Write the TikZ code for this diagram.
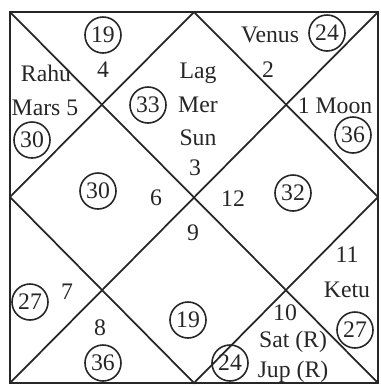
\documentclass[tikz,border=0pt]{standalone}
\usepackage{fontspec}
\setmainfont{Liberation Serif}
\usetikzlibrary{positioning}
\definecolor{ink}{HTML}{262626}

\begin{document}
\begin{tikzpicture}[x=0.02cm, y=-0.02cm,
    every node/.style={font=\fontsize{13.5}{15}\selectfont, text=ink},
    deg/.style={draw=ink, circle, line width=0.9pt, minimum size=20.5pt, inner sep=0pt},
    lbl/.style={inner sep=0pt}]
  \useasboundingbox (0,0) rectangle (380,386);
  % chart frame
  \coordinate (tl) at (10,12);   \coordinate (tr) at (378,12);
  \coordinate (bl) at (10,383);  \coordinate (br) at (378,383);
  \coordinate (tm) at (194,12);  \coordinate (bm) at (194,383);
  \coordinate (lm) at (10,197);  \coordinate (rm) at (378,197);
  \draw[ink, line width=1.1pt] (tl) rectangle (br);
  \draw[ink, line width=1pt] (tl) -- (br) (tr) -- (bl);
  \draw[ink, line width=1pt] (tm) -- (rm) -- (bm) -- (lm) -- cycle;

  % circled degrees
  \foreach \n/\x/\y/\v in
    {dA/103/35/19, dB/32/140/30, dC/148/105/33, dD/327/33/24,
     dE/353/135/36, dF/98/191/30, dG/293/193/32, dH/30/302/27,
     dI/103/363/36, dJ/188/320/19, dK/355/330/27, dL/230/363/24}
    {\node[deg] (\n) at (\x,\y) {\v};}

  % houses and planets
  \foreach \n/\x/\y/\t in
    {hFour/103/70/4, rahu/46/73/Rahu, mars/45/108/Mars 5,
     lag/198/73/Lag, mer/198/105/Mer, sun/198/138/Sun, hThree/195/168/3,
     venus/270/35/Venus, hTwo/268/70/2, moon/335/106/1 Moon,
     hSix/156/198/6, hTwelve/233/199/12, hNine/193/233/9,
     hSeven/67/292/7, hEight/100/328/8, hEleven/347/255/11,
     ketu/347/290/Ketu, hTen/285/313/10, sat/293/342/Sat (R),
     jup/293/372/Jup (R)}
    {\node[lbl] (\n) at (\x,\y) {\t};}
\end{tikzpicture}
\end{document}
